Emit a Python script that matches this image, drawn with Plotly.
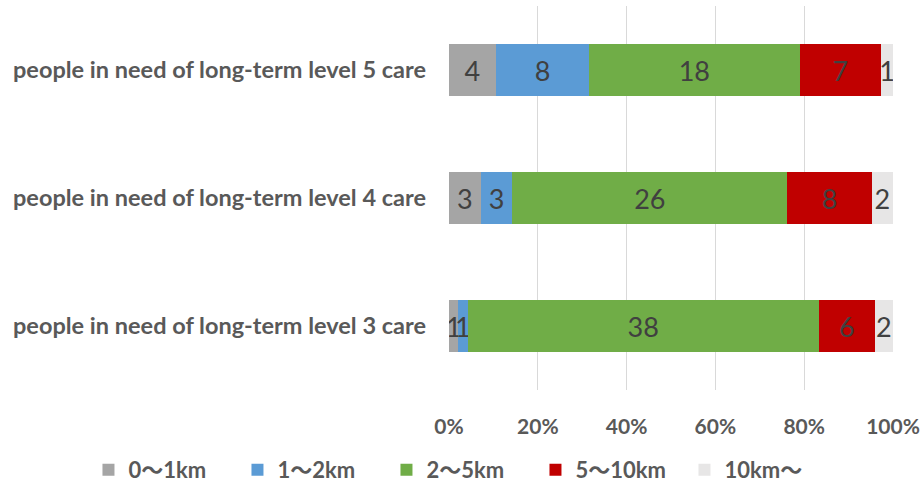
import plotly.graph_objects as go

categories = ["people in need of long-term level 3 care",
              "people in need of long-term level 4 care",
              "people in need of long-term level 5 care"]
series_names = ["0〜1km", "1〜2km", "2〜5km", "5〜10km", "10km〜"]
values = {
    "0〜1km": [1, 3, 4],
    "1〜2km": [1, 3, 8],
    "2〜5km": [38, 26, 18],
    "5〜10km": [6, 8, 7],
    "10km〜": [2, 2, 1],
}
colors = ["#a5a5a5", "#5b9bd5", "#70ad47", "#c00000", "#e7e6e6"]
x_ticks = [0, 20, 40, 60, 80, 100]
x_tick_labels = ["0%", "20%", "40%", "60%", "80%", "100%"]

totals = [sum(values[s][i] for s in series_names) for i in range(len(categories))]

FONT = "Lato, 'Noto Sans CJK JP', sans-serif"

fig = go.Figure()
for name, col in zip(series_names, colors):
    v = values[name]
    pct = [v[i] / totals[i] * 100 for i in range(len(categories))]
    fig.add_trace(go.Bar(
        y=categories, x=pct, name=name, orientation="h",
        marker=dict(color=col, line=dict(width=0)),
        text=[str(a) for a in v], textposition="inside",
        insidetextanchor="middle", constraintext="none",
        textfont=dict(family=FONT, size=27, color="#404040"),
        hoverinfo="skip",
    ))

fig.update_layout(
    barmode="stack", bargap=0.6,
    width=923, height=491,
    margin=dict(l=449, r=30, t=6, b=101, autoexpand=False),
    plot_bgcolor="white", paper_bgcolor="white",
    font=dict(family=FONT, color="#595959"),
    legend=dict(orientation="h", xref="paper", yref="paper",
                x=-0.812, xanchor="left", y=-0.208, yanchor="middle",
                font=dict(family=FONT, size=22, color="#595959", weight="bold"),
                itemwidth=30, entrywidth=104, entrywidthmode="pixels",
                traceorder="normal"),
    showlegend=True,
)
fig.update_xaxes(range=[0, 100], tickvals=x_ticks, ticktext=x_tick_labels,
                 showgrid=True, gridcolor="#d9d9d9", gridwidth=1,
                 zeroline=False, showline=False, ticks="",
                 ticklabelstandoff=22,
                 tickfont=dict(family=FONT, size=21, color="#595959", weight="bold"))
fig.update_yaxes(showgrid=False, showline=False, ticks="", ticklabelstandoff=22,
                 tickfont=dict(family=FONT, size=23.5, color="#595959", weight="bold"))
fig.write_html("out.html")
